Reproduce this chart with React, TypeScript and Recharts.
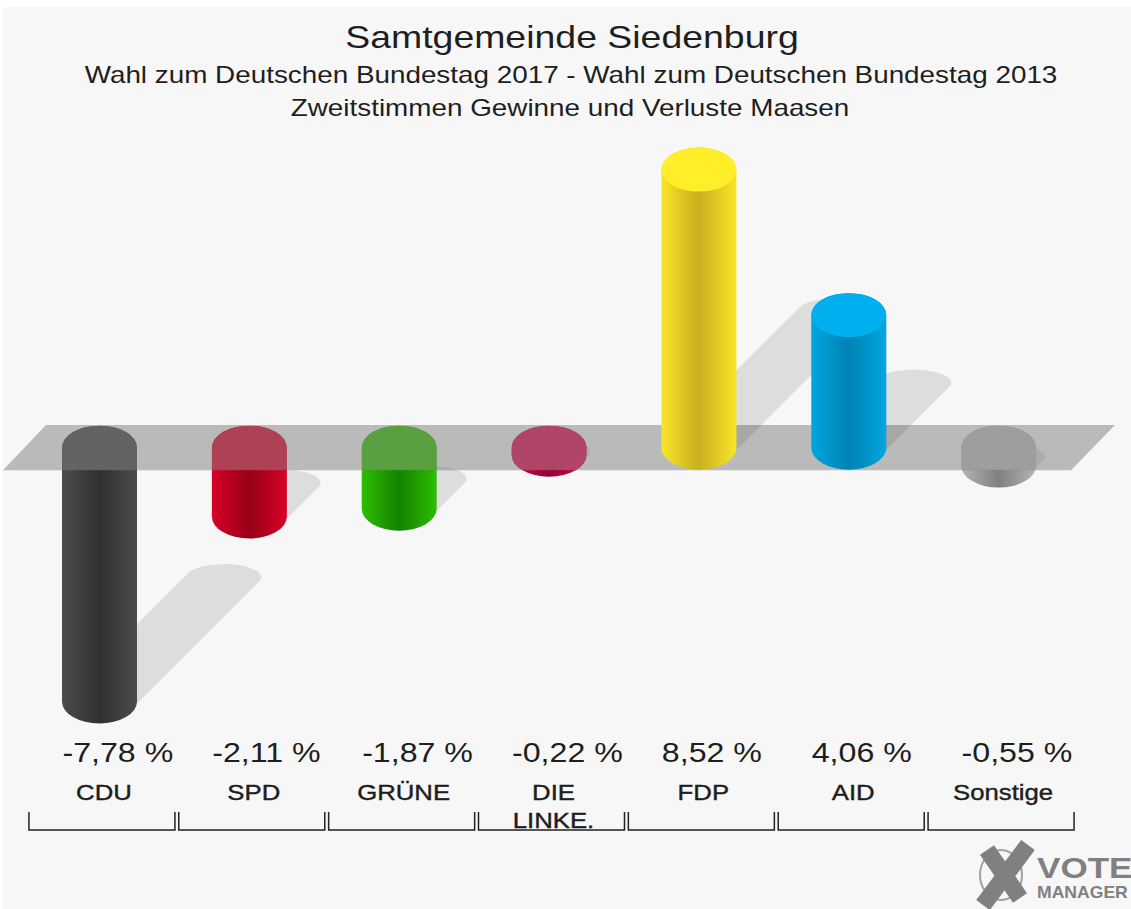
import {Bar, BarChart, ReferenceArea, XAxis, YAxis} from 'recharts';

const categories = ['CDU', 'SPD', 'GRÜNE', 'DIE LINKE.', 'FDP', 'AID', 'Sonstige'];
const changes = [-7.78, -2.11, -1.87, -0.22, 8.52, 4.06, -0.55];
const valueLabels = ['-7,78 %', '-2,11 %', '-1,87 %', '-0,22 %', '8,52 %', '4,06 %', '-0,55 %'];
const capColors = ['#464646', '#e00028', '#32c200', '#e20a50', '#ffee28', '#00afee', '#bebebe'];
const edgeColors = ['#4c4c4c', '#d80028', '#2ebe00', '#d00a48', '#f8e628', '#00a6e0', '#b4b4b4'];
const coreColors = ['#303030', '#960018', '#148200', '#960038', '#c8af1e', '#0082b4', '#808080'];

const data = categories.map((name, i) => ({
    name,
    negative: changes[i] < 0 ? changes[i] : null,
    positive: changes[i] > 0 ? changes[i] : null,
}));

const FONT = '"Liberation Sans", Arial, sans-serif';
const STRETCH = 1.17;
const CAP_RY = 22;
const SHADOW_RY = 13;

const Txt = ({x, y, size, anchor = 'middle', fill = '#1e1e1e', weight, stretch = STRETCH, stroke, children}: any) => (
    <text
        transform={`translate(${x},${y}) scale(${stretch},1)`}
        textAnchor={anchor}
        fontSize={size}
        fontFamily={FONT}
        fontWeight={weight}
        fill={fill}
        stroke={stroke}
        strokeWidth={stroke ? 0.4 : undefined}
    >
        {children}
    </text>
);

// shadow falls up and to the right from the free end of the bar
const Shadow = ({cx, cy, rx, shift}: any) => {
    const d = Math.sqrt(rx * rx + SHADOW_RY * SHADOW_RY);
    const tx = (rx * rx) / d;
    const ty = (SHADOW_RY * SHADOW_RY) / d;
    const path = `M${cx + tx},${cy + ty} L${cx + shift + tx},${cy - shift + ty}
        A${rx},${SHADOW_RY} 0 1 0 ${cx + shift - tx},${cy - shift - ty}
        L${cx - tx},${cy - ty} Z`;
    return <path d={path} fill="rgba(0,0,0,0.1)"/>;
};

const Cylinder = ({x, y, width, height, payload}: any) => {
    if (!Number.isFinite(height) || !height) return null;
    const index = categories.indexOf(payload.name);
    const rx = width / 2;
    const cx = x + rx;
    const top = Math.min(y, y + height);
    const bottom = Math.max(y, y + height);
    const id = `body-${index}`;
    const outline = `M${x},${top} A${rx},${CAP_RY} 0 0 1 ${x + width},${top} V${bottom} A${rx},${CAP_RY} 0 0 1 ${x},${bottom} Z`;
    return (
        <g>
            <defs>
                <linearGradient id={id} x1="0" x2="1" y1="0" y2="0">
                    <stop offset="0%" stopColor={edgeColors[index]}/>
                    <stop offset="50%" stopColor={coreColors[index]}/>
                    <stop offset="100%" stopColor={edgeColors[index]}/>
                </linearGradient>
                <clipPath id={`${id}-clip`}>
                    <rect x={x} y={top - CAP_RY} width={width} height={CAP_RY * 2}/>
                </clipPath>
            </defs>
            <Shadow cx={cx} cy={bottom} rx={rx} shift={(bottom - top) * 0.49}/>
            <path d={outline} fill={`url(#${id})`}/>
            {changes[index] < 0
                // the part seen through the floor band stays flat
                ? <path d={outline} fill={capColors[index]} clipPath={`url(#${id}-clip)`}/>
                : <ellipse cx={cx} cy={top} rx={rx} ry={CAP_RY} fill={capColors[index]}/>}
        </g>
    );
};

const FloorBand = ({y, height}: any) => (
    <path
        d={`M46,${y} H1115 L1071,${y + height} H3 Z`}
        fill="rgba(127,127,127,0.51)"
    />
);

const CategoryTick = ({x, y, payload, index}: any) => {
    const lines = String(payload.value).split(' ');
    return (
        <g>
            <Txt x={x - 37.5} y={y + 37} size={27.5} anchor="start">{valueLabels[index]}</Txt>
            {lines.map((line, i) => (
                <Txt key={line} x={x + 4} y={y + 75 + i * 28} size={22} stroke="#1e1e1e">{line}</Txt>
            ))}
            <path
                d={`M${x - 71},${y + 87} V${y + 105} H${x + 75} V${y + 87}`}
                fill="none"
                stroke="#222"
                strokeWidth={1.5}
            />
        </g>
    );
};

const Logo = () => (
    <g>
        <ellipse cx={1001} cy={875} rx={21} ry={25} fill="none" stroke="#a0a0a0" strokeWidth={2}/>
        <path d="M987,850 L1020,898 M1028,845 L983,905" stroke="#808080" strokeWidth={17} fill="none"/>
        <Txt x={1037} y={878} size={30} anchor="start" weight="bold" fill="#808080">VOTE</Txt>
        <Txt x={1037} y={898} size={16} anchor="start" weight="bold" fill="#808080" stretch={1.1}>MANAGER</Txt>
    </g>
);

const App = () => (
    <div style={{position: 'absolute', left: 0, top: 0, width: 1131, height: 909, background: '#fff'}}>
        <div style={{position: 'absolute', left: 3, top: 7, right: 0, bottom: 0, background: '#f7f7f7'}}/>
        <div style={{position: 'absolute', left: 0, top: 0}}>
            <BarChart
                width={1131}
                height={909}
                data={data}
                barSize={75}
                barGap={-75}
                margin={{top: 105, right: 57, bottom: 0, left: 25}}
            >
                <XAxis
                    dataKey="name"
                    height={184}
                    interval={0}
                    axisLine={false}
                    tickLine={false}
                    tickSize={0}
                    tickMargin={0}
                    tick={<CategoryTick/>}
                />
                <YAxis hide domain={[-8.5, 10.5]}/>
                <Bar dataKey="negative" shape={<Cylinder/>} isAnimationActive={false} zIndex={200}/>
                <ReferenceArea y1={-0.69} y2={0.69} ifOverflow="visible" shape={<FloorBand/>} zIndex={250}/>
                <Bar dataKey="positive" shape={<Cylinder/>} isAnimationActive={false} zIndex={300}/>
                <Txt x={572} y={48} size={32}>Samtgemeinde Siedenburg</Txt>
                <Txt x={571} y={83} size={23.8}>Wahl zum Deutschen Bundestag 2017 - Wahl zum Deutschen Bundestag 2013</Txt>
                <Txt x={570} y={116} size={23.8}>Zweitstimmen Gewinne und Verluste Maasen</Txt>
                <Logo/>
            </BarChart>
        </div>
    </div>
);

export default App;
